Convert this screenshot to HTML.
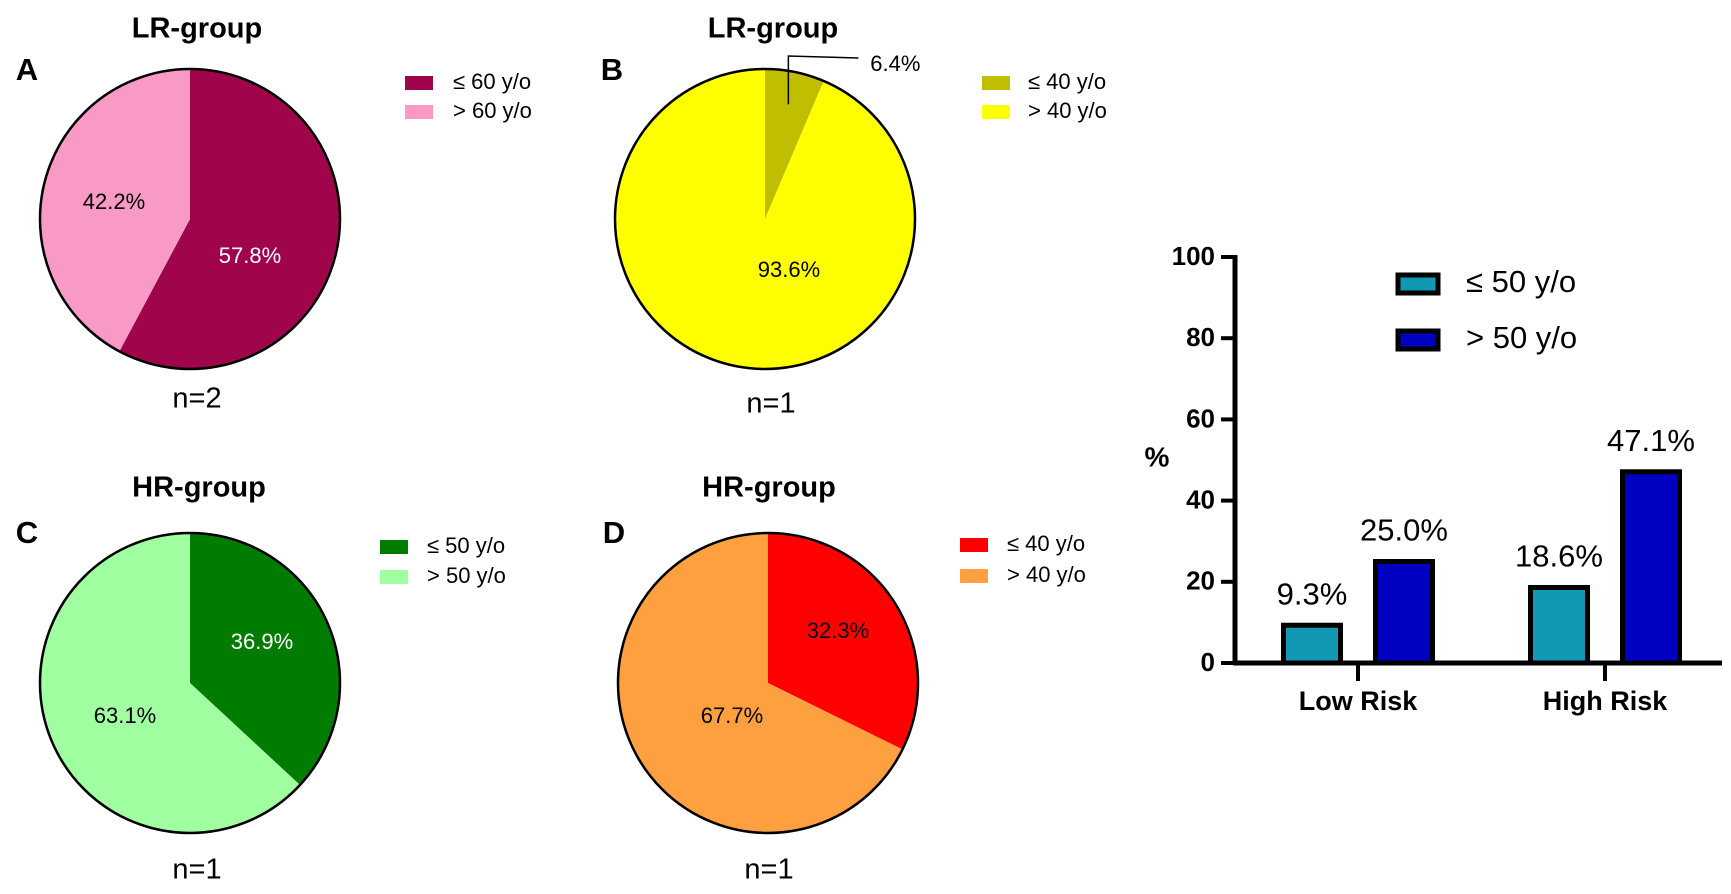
<!DOCTYPE html>
<html><head><meta charset="utf-8"><style>
html,body{margin:0;padding:0;background:#fff;}
svg{display:block;font-family:"Liberation Sans","DejaVu Sans",sans-serif;}
</style></head><body>
<svg id="fig" width="1731" height="894" viewBox="0 0 1731 894"></svg>
<script>
// Pie data
const pieTitles = ["LR-group","LR-group","HR-group","HR-group"];
const pieLetters = ["A","B","C","D"];
const pieN = ["n=2","n=1","n=1","n=1"];
const pieValues = [[57.8,42.2],[6.4,93.6],[36.9,63.1],[32.3,67.7]];
const pieLegend = [["≤ 60 y/o","> 60 y/o"],["≤ 40 y/o","> 40 y/o"],["≤ 50 y/o","> 50 y/o"],["≤ 40 y/o","> 40 y/o"]];
// Bar data
const barCategories = ["Low Risk","High Risk"];
const barSeriesNames = ["≤ 50 y/o","> 50 y/o"];
const barYoung = [9.3,18.6];
const barOld = [25.0,47.1];
const yTicks = [0,20,40,60,80,100];

const NS="http://www.w3.org/2000/svg";
const svg=document.getElementById('fig');
function mk(tag,attrs,parent,text){const e=document.createElementNS(NS,tag);for(const k in attrs)e.setAttribute(k,attrs[k]);if(text!==undefined)e.textContent=text;(parent||svg).appendChild(e);return e;}

const pieLayout=[
 {cx:190,cy:219,r:150,title:[197,30],letter:[27,72],n:[197,400],leg:[405,83,453,112],cols:["#A0044A","#F99AC6"],lab:[[250,257,"#fff"],[114,203,"#000"]]},
 {cx:765,cy:219,r:150,title:[773,30],letter:[612,72],n:[771,405],leg:[982,83,1028,112],cols:["#C0BE00","#FFFF00"],lab:[[null],[789,271,"#000"]]},
 {cx:190,cy:683,r:150,title:[199,489],letter:[27,535],n:[197,871],leg:[380,547,427,577],cols:["#007D00","#A0FFA0"],lab:[[262,643,"#fff"],[125,717,"#000"]]},
 {cx:768,cy:683,r:150,title:[769,489],letter:[614,535],n:[769,871],leg:[960,545,1007,576],cols:["#FF0000","#FFA040"],lab:[[838,632,"#000"],[732,717,"#000"]]}
];

pieLayout.forEach((L,i)=>{
  const g=mk('g',{});
  
  
  const t=mk('text',{x:L.title[0],y:L.title[1],'text-anchor':'middle','dominant-baseline':'middle','font-size':29,'font-weight':'bold'},g,pieTitles[i]);
  
  
  const le=mk('text',{x:L.letter[0],y:L.letter[1],'text-anchor':'middle','dominant-baseline':'middle','font-size':31,'font-weight':'bold'},g,pieLetters[i]);
  
  
  const total=pieValues[i].reduce((a,b)=>a+b,0);
  let a0=0;
  pieValues[i].forEach((v,j)=>{
    const a1=a0+v/total*2*Math.PI;
    const x0=L.cx+L.r*Math.sin(a0),y0=L.cy-L.r*Math.cos(a0);
    const x1=L.cx+L.r*Math.sin(a1),y1=L.cy-L.r*Math.cos(a1);
    const large=(a1-a0)>Math.PI?1:0;
    const p=mk('path',{d:`M${L.cx},${L.cy} L${x0},${y0} A${L.r},${L.r} 0 ${large} 1 ${x1},${y1} Z`,fill:L.cols[j]},g);
    
    
    const lb=L.lab[j];
    if(lb[0]!==null){
      const tx=mk('text',{x:lb[0],y:lb[1],'text-anchor':'middle','dominant-baseline':'middle','font-size':22,fill:lb[2]},g,v.toFixed(1)+'%');
      
      
    } else {
      const am=(a0+a1)/2;
      const px=L.cx+L.r*0.78*Math.sin(am),py=L.cy-L.r*0.78*Math.cos(am);
      const ln=mk('polyline',{points:`${px},${py} ${px},${L.cy-L.r-13} ${px+70},${L.cy-L.r-11}`,fill:'none',stroke:'#000','stroke-width':1.5},g);
      
      
      const tx=mk('text',{x:px+107,y:L.cy-L.r-4,'text-anchor':'middle','dominant-baseline':'middle','font-size':22},g,v.toFixed(1)+'%');
      
      
    }
    a0=a1;
  });
  mk('circle',{cx:L.cx,cy:L.cy,r:L.r,fill:'none',stroke:'#000','stroke-width':2.5},g);
  const nt=mk('text',{x:L.n[0],y:L.n[1],'text-anchor':'middle','dominant-baseline':'middle','font-size':29},g,pieN[i]);
  
  
  [0,1].forEach(j=>{
    const ey=j?L.leg[3]:L.leg[1];
    const r=mk('rect',{x:L.leg[0],y:ey-7,width:28,height:14,fill:L.cols[j]},g);
    
    
    const lt=mk('text',{x:L.leg[2],y:ey,'dominant-baseline':'middle','font-size':22},g,pieLegend[i][j]);
    
    
  });
});

// Bar chart
const X0=1235,Y0=663,Y100=257,XEND=1722;
const yS=v=>Y0-(v/100)*(Y0-Y100);
const catC=[1358,1605];
const barW=57, off=46;
const bg=mk('g',{});


const series=[barYoung,barOld], sCols=["#1199B4","#0000C0"];
barCategories.forEach((c,i)=>{
  series.forEach((s,j)=>{
    const cx=catC[i]+(j?off:-off);
    const b=mk('rect',{x:cx-barW/2,y:yS(s[i]),width:barW,height:Y0-yS(s[i]),fill:sCols[j],stroke:'#000','stroke-width':5},bg);
    
    
    const t=mk('text',{x:cx,y:yS(s[i])-29,'text-anchor':'middle','dominant-baseline':'middle','font-size':31},bg,s[i].toFixed(1)+'%');
    
    
  });
  mk('line',{x1:catC[i],y1:Y0,x2:catC[i],y2:Y0+18,stroke:'#000','stroke-width':4},bg);
  const ct=mk('text',{x:catC[i],y:Y0+40,'text-anchor':'middle','dominant-baseline':'middle','font-size':27,'font-weight':'bold'},bg,c);
  
  
});
mk('line',{x1:X0,y1:Y100-2,x2:X0,y2:Y0+2,stroke:'#000','stroke-width':5},bg);
mk('line',{x1:X0-2,y1:Y0,x2:XEND,y2:Y0,stroke:'#000','stroke-width':5},bg);
yTicks.forEach(v=>{
  mk('line',{x1:X0-14,y1:yS(v),x2:X0,y2:yS(v),stroke:'#000','stroke-width':4},bg);
  const t=mk('text',{x:X0-20,y:yS(v)+1,'text-anchor':'end','dominant-baseline':'middle','font-size':26,'font-weight':'bold'},bg,String(v));
  
  
});
const yt=mk('text',{x:1157,y:459,'text-anchor':'middle','dominant-baseline':'middle','font-size':28,'font-weight':'bold'},bg,'%');


barSeriesNames.forEach((n,j)=>{
  const ey=j?340:284;
  const r=mk('rect',{x:1398,y:ey-9,width:40,height:18,fill:sCols[j],stroke:'#000','stroke-width':5},bg);
  
  
  const t=mk('text',{x:1466,y:ey,'dominant-baseline':'middle','font-size':31},bg,n);
  
  
});
</script>
</body></html>
